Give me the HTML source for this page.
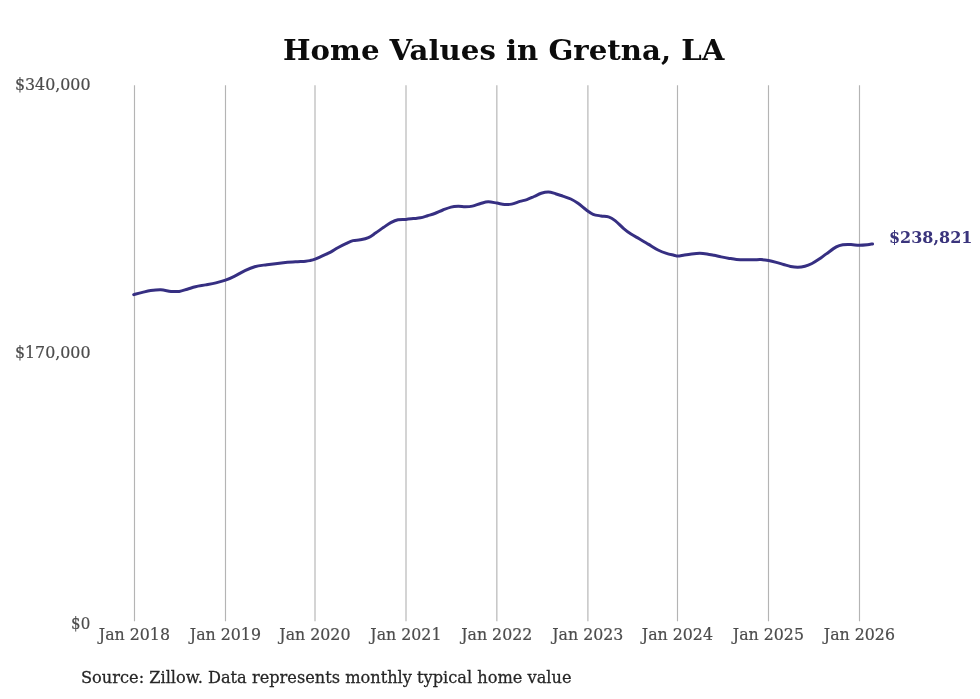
<!DOCTYPE html>
<html><head><meta charset="utf-8"><title>Home Values in Gretna, LA</title>
<style>
html,body{margin:0;padding:0;background:#fff}
svg{display:block}
text{font-family:"DejaVu Serif","Liberation Serif",serif}
.t{font-size:29px;font-weight:bold;fill:#0c0c0c}
.ax{font-size:16px;fill:#4c4c4c;stroke:#4c4c4c;stroke-width:0.2px}
.src{font-size:16.2px;fill:#262626;stroke:#262626;stroke-width:0.25px}
.val{font-size:16px;font-weight:bold;fill:#3a347c}
</style></head><body>
<svg width="980" height="699" viewBox="0 0 980 699">
<rect width="980" height="699" fill="#fff"/>
<text class="t" text-anchor="middle" transform="translate(503.70,60.40) scale(1.007,0.96)">Home Values in Gretna, LA</text>
<g stroke="#b4b4b4" stroke-width="1.15">
<line x1="134.50" y1="85.3" x2="134.50" y2="621.2"/>
<line x1="225.50" y1="85.3" x2="225.50" y2="621.2"/>
<line x1="315.00" y1="85.3" x2="315.00" y2="621.2"/>
<line x1="406.00" y1="85.3" x2="406.00" y2="621.2"/>
<line x1="496.85" y1="85.3" x2="496.85" y2="621.2"/>
<line x1="587.90" y1="85.3" x2="587.90" y2="621.2"/>
<line x1="677.50" y1="85.3" x2="677.50" y2="621.2"/>
<line x1="768.50" y1="85.3" x2="768.50" y2="621.2"/>
<line x1="859.50" y1="85.3" x2="859.50" y2="621.2"/>
</g>
<text class="ax" text-anchor="end" transform="translate(90.50,90.25) scale(0.99,1.05)">$340,000</text>
<text class="ax" text-anchor="end" transform="translate(90.50,358.45) scale(0.99,1.05)">$170,000</text>
<text class="ax" text-anchor="end" transform="translate(90.20,629.00) scale(0.94,1.05)">$0</text>
<text class="ax" text-anchor="middle" transform="translate(134.40,640.30) scale(0.988,1.05)">Jan 2018</text>
<text class="ax" text-anchor="middle" transform="translate(225.40,640.30) scale(0.988,1.05)">Jan 2019</text>
<text class="ax" text-anchor="middle" transform="translate(314.90,640.30) scale(0.988,1.05)">Jan 2020</text>
<text class="ax" text-anchor="middle" transform="translate(405.90,640.30) scale(0.988,1.05)">Jan 2021</text>
<text class="ax" text-anchor="middle" transform="translate(496.75,640.30) scale(0.988,1.05)">Jan 2022</text>
<text class="ax" text-anchor="middle" transform="translate(587.80,640.30) scale(0.988,1.05)">Jan 2023</text>
<text class="ax" text-anchor="middle" transform="translate(677.40,640.30) scale(0.988,1.05)">Jan 2024</text>
<text class="ax" text-anchor="middle" transform="translate(768.40,640.30) scale(0.988,1.05)">Jan 2025</text>
<text class="ax" text-anchor="middle" transform="translate(859.40,640.30) scale(0.988,1.05)">Jan 2026</text>

<path d="M133.70,294.60 C135.15,294.23 139.58,293.07 142.40,292.40 C145.22,291.73 147.53,291.03 150.60,290.60 C153.67,290.17 157.40,289.67 160.80,289.80 C164.20,289.93 167.93,291.13 171.00,291.40 C174.07,291.67 176.48,291.77 179.20,291.40 C181.92,291.03 184.58,289.98 187.30,289.20 C190.02,288.42 192.43,287.42 195.50,286.70 C198.57,285.98 202.30,285.53 205.70,284.90 C209.10,284.27 212.60,283.68 215.90,282.90 C219.20,282.12 222.43,281.30 225.50,280.20 C228.57,279.10 231.13,277.87 234.30,276.30 C237.47,274.73 241.10,272.40 244.50,270.80 C247.90,269.20 250.97,267.72 254.70,266.70 C258.43,265.68 262.13,265.37 266.90,264.70 C271.67,264.03 278.53,263.18 283.30,262.70 C288.07,262.22 291.77,262.05 295.50,261.80 C299.23,261.55 303.28,261.40 305.70,261.20 C308.12,261.00 308.43,260.93 310.00,260.60 C311.57,260.27 313.03,259.98 315.10,259.20 C317.17,258.42 319.82,257.07 322.40,255.90 C324.98,254.73 328.03,253.55 330.60,252.20 C333.17,250.85 335.25,249.22 337.80,247.80 C340.35,246.38 343.35,244.90 345.90,243.70 C348.45,242.50 350.72,241.25 353.10,240.60 C355.48,239.95 357.65,240.30 360.20,239.80 C362.75,239.30 365.85,238.72 368.40,237.60 C370.95,236.48 372.95,234.82 375.50,233.10 C378.05,231.38 381.15,229.03 383.70,227.30 C386.25,225.57 388.42,223.95 390.80,222.70 C393.18,221.45 395.48,220.35 398.00,219.80 C400.52,219.25 403.35,219.60 405.90,219.40 C408.45,219.20 410.88,218.87 413.30,218.60 C415.72,218.33 418.02,218.28 420.40,217.80 C422.78,217.32 425.22,216.42 427.60,215.70 C429.98,214.98 432.15,214.45 434.70,213.50 C437.25,212.55 440.18,211.07 442.90,210.00 C445.62,208.93 448.45,207.72 451.00,207.10 C453.55,206.48 455.82,206.37 458.20,206.30 C460.58,206.23 462.93,206.73 465.30,206.70 C467.67,206.67 469.85,206.63 472.40,206.10 C474.95,205.57 477.97,204.22 480.60,203.50 C483.23,202.78 485.48,201.87 488.20,201.80 C490.92,201.73 494.18,202.65 496.90,203.10 C499.62,203.55 502.05,204.33 504.50,204.50 C506.95,204.67 509.05,204.62 511.60,204.10 C514.15,203.58 517.25,202.15 519.80,201.40 C522.35,200.65 524.52,200.42 526.90,199.60 C529.28,198.78 531.72,197.55 534.10,196.50 C536.48,195.45 538.82,194.05 541.20,193.30 C543.58,192.55 546.02,191.93 548.40,192.00 C550.78,192.07 553.12,193.02 555.50,193.70 C557.88,194.38 560.15,195.22 562.70,196.10 C565.25,196.98 568.25,197.80 570.80,199.00 C573.35,200.20 575.45,201.50 578.00,203.30 C580.55,205.10 583.58,207.97 586.10,209.80 C588.62,211.63 590.62,213.28 593.10,214.30 C595.58,215.32 598.43,215.48 601.00,215.90 C603.57,216.32 606.15,216.02 608.50,216.80 C610.85,217.58 612.57,218.63 615.10,220.60 C617.63,222.57 621.05,226.35 623.70,228.60 C626.35,230.85 628.35,232.37 631.00,234.10 C633.65,235.83 636.73,237.33 639.60,239.00 C642.47,240.67 645.13,242.27 648.20,244.10 C651.27,245.93 654.95,248.45 658.00,250.00 C661.05,251.55 663.85,252.53 666.50,253.40 C669.15,254.27 672.02,254.75 673.90,255.20 C675.78,255.65 676.03,256.15 677.80,256.10 C679.57,256.05 682.20,255.27 684.50,254.90 C686.80,254.53 689.05,254.17 691.60,253.90 C694.15,253.63 697.25,253.30 699.80,253.30 C702.35,253.30 704.52,253.57 706.90,253.90 C709.28,254.23 711.72,254.80 714.10,255.30 C716.48,255.80 718.65,256.38 721.20,256.90 C723.75,257.42 726.85,257.98 729.40,258.40 C731.95,258.82 733.78,259.17 736.50,259.40 C739.22,259.63 742.80,259.73 745.70,259.80 C748.60,259.87 751.35,259.83 753.90,259.80 C756.45,259.77 758.55,259.47 761.00,259.60 C763.45,259.73 766.05,260.13 768.60,260.60 C771.15,261.07 773.82,261.75 776.30,262.40 C778.78,263.05 781.12,263.82 783.50,264.50 C785.88,265.18 788.22,266.03 790.60,266.50 C792.98,266.97 795.42,267.33 797.80,267.30 C800.18,267.27 802.53,266.93 804.90,266.30 C807.27,265.67 809.62,264.70 812.00,263.50 C814.38,262.30 816.82,260.70 819.20,259.10 C821.58,257.50 823.45,255.93 826.30,253.90 C829.15,251.87 833.53,248.42 836.30,246.90 C839.07,245.38 840.45,245.18 842.90,244.80 C845.35,244.42 848.28,244.53 851.00,244.60 C853.72,244.67 856.48,245.18 859.20,245.20 C861.92,245.22 865.07,244.92 867.30,244.70 C869.53,244.48 871.72,244.03 872.60,243.90" fill="none" stroke="#362f82" stroke-width="3" stroke-linecap="round" stroke-linejoin="round"/>
<text class="val" transform="translate(889.00,243.40) scale(1,1.05)">$238,821</text>
<text class="src" transform="translate(81.00,683.40) scale(1,1.05)">Source: Zillow. Data represents monthly typical home value</text>
</svg>
</body></html>
